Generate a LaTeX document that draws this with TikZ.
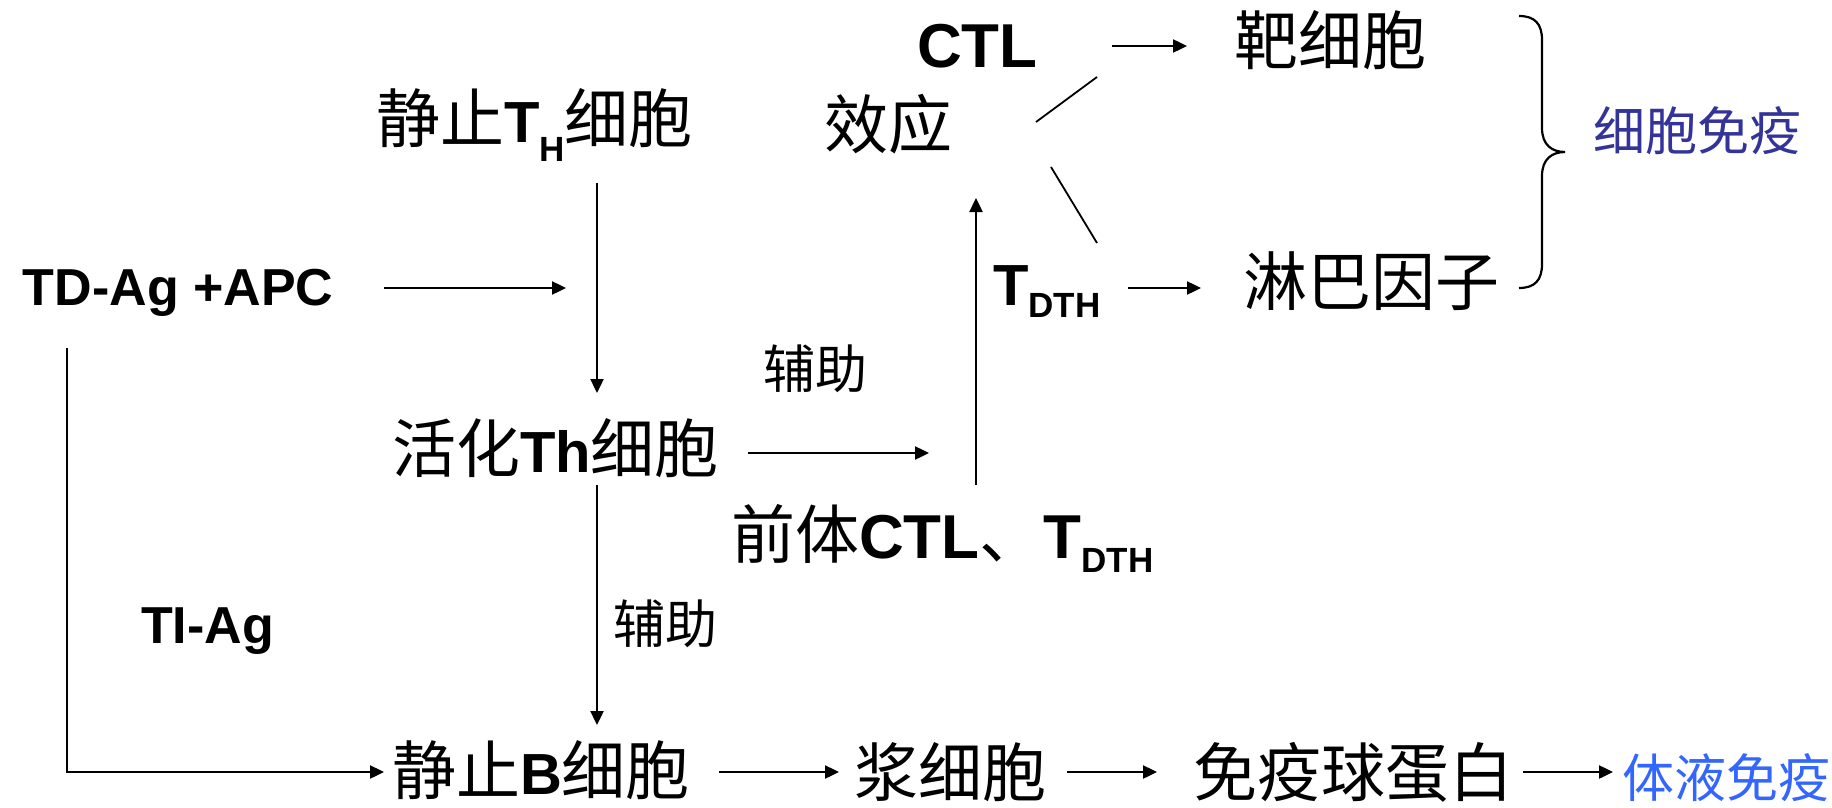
\documentclass[tikz,border=0pt]{standalone}
\usepackage{fontspec}
\setmainfont{Liberation Sans}
\newfontfamily\cjk{Noto Sans CJK SC}
\usetikzlibrary{arrows.meta}
\newcommand{\zhbig}[1]{{\fontsize{64}{70}\selectfont\cjk #1}}
\newcommand{\zhsm}[1]{{\fontsize{52}{58}\selectfont\cjk #1}}
\newcommand{\enb}[1]{{\fontsize{58}{64}\selectfont\bfseries #1}}
\newcommand{\enl}[1]{{\fontsize{62}{68}\selectfont\bfseries #1}}
\newcommand{\ens}[1]{{\fontsize{52}{58}\selectfont\bfseries #1}}
\newcommand{\subx}[2]{\raisebox{-#1pt}{\fontsize{35}{35}\selectfont\bfseries #2}}
\definecolor{cellblue}{HTML}{333399}
\definecolor{humblue}{HTML}{3366FF}
\begin{document}
\begin{tikzpicture}[x=1pt,y=-1pt,
  lbl/.style={inner sep=0pt,outer sep=0pt,anchor=base west},
  arr/.style={line width=2.4pt,-{Triangle[length=14pt,width=13pt]}},
  ln/.style={line width=2.2pt},
  thin/.style={line width=1.8pt}]
\useasboundingbox (0,0) rectangle (1832,808);
% nodes
\node[lbl] (ctl) at (917,67) {\enl{CTL}};
\node[lbl] (xiaoying) at (824,148) {\zhbig{效应}};
\node[lbl] (threst) at (376,142) {\zhbig{静止}\enb{T}\subx{20}{H}\zhbig{细胞}};
\node[lbl] (target) at (1234,65) {\zhbig{靶细胞}};
\node[lbl,text=cellblue] (cellimm) at (1593,150) {\zhsm{细胞免疫}};
\node[lbl] (tdag) at (23,305) {\ens{TD-Ag +APC}};
\node[lbl] (tdth) at (993,305) {\enb{T}\subx{12}{DTH}};
\node[lbl] (lymph) at (1243,305) {\zhbig{淋巴因子}};
\node[lbl] (help1) at (763,388) {\zhsm{辅助}};
\node[lbl] (thact) at (392,472) {\zhbig{活化}\enb{Th}\zhbig{细胞}};
\node[lbl] (pre) at (731,558) {\zhbig{前体}\enl{CTL}\zhbig{、}\enl{T}\subx{14}{DTH}};
\node[lbl] (help2) at (613,643) {\zhsm{辅助}};
\node[lbl] (tiag) at (141,643) {\ens{TI-Ag}};
\node[lbl] (brest) at (392,794) {\zhbig{静止}\enb{B}\zhbig{细胞}};
\node[lbl] (plasma) at (854,796) {\zhbig{浆细胞}};
\node[lbl] (ig) at (1193,796) {\zhbig{免疫球蛋白}};
\node[lbl,text=humblue] (humoral) at (1622,797) {\zhsm{体液免疫}};
% coordinates
\coordinate (a1s) at (384,288);  \coordinate (a1e) at (566,288);
\coordinate (v1s) at (597,183);  \coordinate (v1e) at (597,393);
\coordinate (a2s) at (748,453);  \coordinate (a2e) at (929,453);
\coordinate (ups) at (976,485);  \coordinate (upe) at (976,198);
\coordinate (v2s) at (597,485);  \coordinate (v2e) at (597,725);
\coordinate (lts) at (67,348);   \coordinate (ltc) at (67,772); \coordinate (lte) at (384,772);
\coordinate (b1s) at (719,772);  \coordinate (b1e) at (839,772);
\coordinate (b2s) at (1067,772); \coordinate (b2e) at (1157,772);
\coordinate (b3s) at (1523,772); \coordinate (b3e) at (1613,772);
\coordinate (c1s) at (1112,46);  \coordinate (c1e) at (1187,46);
\coordinate (t1s) at (1128,288); \coordinate (t1e) at (1201,288);
\coordinate (d1s) at (1036,122); \coordinate (d1e) at (1097,77);
\coordinate (d2s) at (1051,167); \coordinate (d2e) at (1097,243);
% connectors
\draw[arr] (a1s) -- (a1e);
\draw[arr] (v1s) -- (v1e);
\draw[arr] (a2s) -- (a2e);
\draw[arr] (ups) -- (upe);
\draw[arr] (v2s) -- (v2e);
\draw[arr] (lts) -- (ltc) -- (lte);
\draw[arr] (b1s) -- (b1e);
\draw[arr] (b2s) -- (b2e);
\draw[arr] (b3s) -- (b3e);
\draw[arr] (c1s) -- (c1e);
\draw[arr] (t1s) -- (t1e);
\draw[thin] (d1s) -- (d1e);
\draw[thin] (d2s) -- (d2e);
% brace
\draw[ln] (1519,16) .. controls (1535,16) and (1542,24) .. (1542,40)
  -- (1542,128) .. controls (1542,145) and (1552,152) .. (1565,152)
  .. controls (1552,152) and (1542,159) .. (1542,176)
  -- (1542,264) .. controls (1542,280) and (1535,288) .. (1519,288);
\end{tikzpicture}
\end{document}
